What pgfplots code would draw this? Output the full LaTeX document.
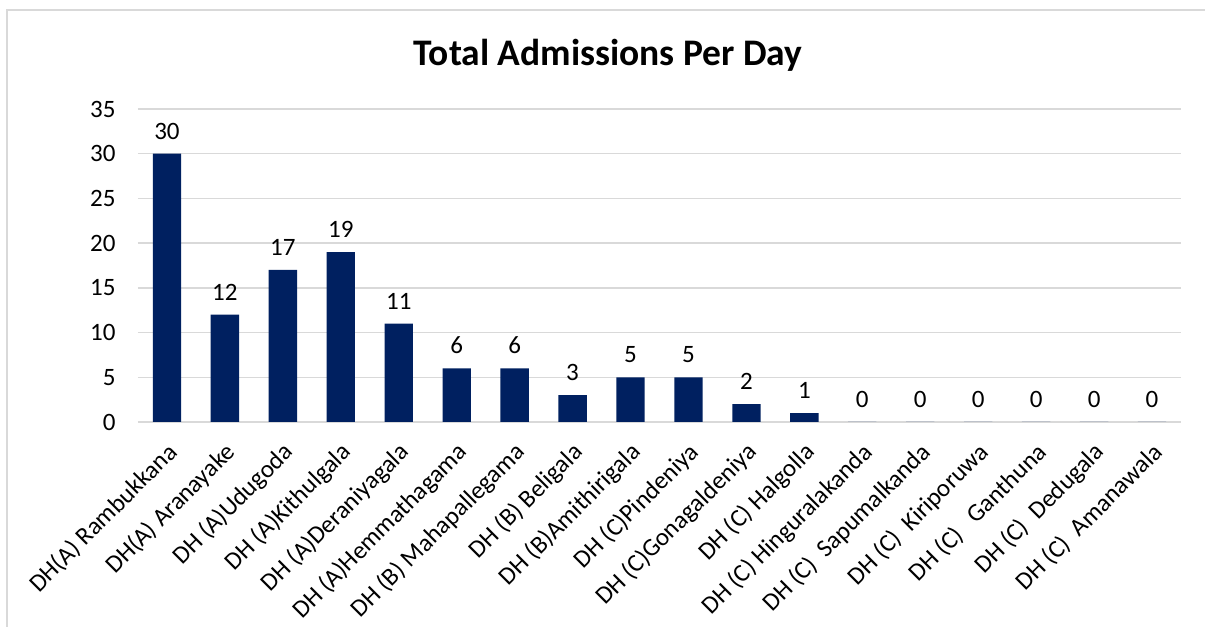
\documentclass[border=0pt]{standalone}
\usepackage{pgfplots}
\pgfplotsset{compat=1.18}
\usepackage{fontspec}
\setmainfont{Carlito}
\definecolor{barblue}{HTML}{002060}
\definecolor{gridgray}{HTML}{D9D9D9}

\begin{document}
\begin{tikzpicture}
	\begin{axis}[
		at={(0,0)}, anchor=south west,
		scale only axis,
		width=625.8pt, height=187.8pt,
		ybar, bar width=17pt,
		xmin=-0.5, xmax=17.5,
		ymin=0, ymax=35,
		ytick={0,5,10,15,20,25,30,35},
		xtick=data,
		xticklabels={DH(A) Rambukkana, DH(A) Aranayake, DH (A)Udugoda, DH (A)Kithulgala,
			DH (A)Deraniyagala, DH (A)Hemmathagama, DH (B) Mahapallegama, DH (B) Beligala,
			DH (B)Amithirigala, DH (C)Pindeniya, DH (C)Gonagaldeniya, DH (C) Halgolla,
			DH (C) Hinguralakanda, DH (C)\ \ Sapumalkanda, DH (C)\ \ Kiriporuwa,
			DH (C)\ \ \ Ganthuna, DH (C)\ \ Dedugala, DH (C)\ \ Amanawala},
		xticklabel style={rotate=45, anchor=east, xshift=-5pt, yshift=-14pt},
		yticklabel style={xshift=-10pt},
		ticklabel style={font=\fontsize{15}{17}\selectfont},
		/pgf/number format/assume math mode=true,
		major tick length=0pt,
		axis line style={draw=none},
		ymajorgrids=true,
		grid style={gridgray, line width=0.9pt},
		nodes near coords,
		nodes near coords style={font=\fontsize{15}{17}\selectfont, anchor=south, yshift=5pt, text=black},
		]
		\addplot[fill=barblue, draw=none] coordinates {
			(0,30)(1,12)(2,17)(3,19)(4,11)(5,6)(6,6)(7,3)(8,5)
			(9,5)(10,2)(11,1)(12,0)(13,0)(14,0)(15,0)(16,0)(17,0)
		};
	\end{axis}
	\pgfresetboundingbox
	\path[use as bounding box] (-82.8pt,-123pt) rectangle (640.2pt,253.2pt);
	\draw[gridgray, line width=1.2pt] (-78.6pt,-123pt) -- (-78.6pt,247.2pt) -- (640.2pt,247.2pt);
	\node[font=\fontsize{22.5}{26}\selectfont\bfseries] at (282pt,220pt) {Total Admissions Per Day};
\end{tikzpicture}
\end{document}
